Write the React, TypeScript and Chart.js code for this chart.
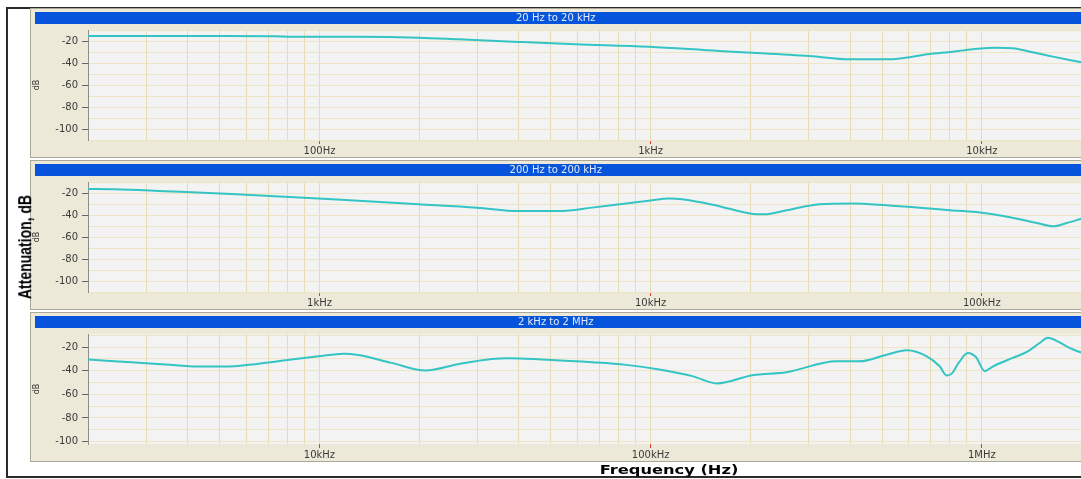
import { useEffect, useRef } from 'react';
import { Chart, registerables } from 'chart.js';

Chart.register(...registerables);
Chart.defaults.font.family = '"DejaVu Sans", Verdana, sans-serif';

// Attenuation sweeps, one per decade window (frequency in Hz, level in dB)
const lowBandHz = [20, 30, 50, 73, 82, 100, 131, 200, 263, 400, 595, 990, 1610, 2030, 3020, 3990, 5270, 5930, 6820, 8170, 9390, 11100, 12400, 14000, 16400, 20000];
const lowBandDb = [-15.5, -15.5, -15.5, -15.6, -16.2, -16.2, -16.2, -17.0, -18.5, -20.9, -23.0, -25.2, -29.1, -30.6, -33.6, -36.6, -36.6, -35.1, -32.1, -29.7, -27.5, -26.1, -26.6, -29.7, -34.2, -39.4];

const midBandHz = [200, 241, 342, 542, 993, 1310, 1990, 2990, 4000, 5290, 6650, 8430, 9890, 11370, 12450, 14310, 16110, 20130, 22030, 25700, 32350, 40750, 51600, 64900, 81700, 100000, 121600, 146600, 164000, 180700, 200000];
const midBandDb = [-16.3, -16.6, -18.4, -20.9, -24.9, -27.1, -30.2, -33.3, -36.4, -36.4, -33.3, -29.5, -27.1, -24.9, -25.6, -28.6, -32.0, -38.8, -39.4, -35.7, -30.2, -29.5, -31.1, -33.3, -35.8, -37.9, -42.0, -47.2, -50.3, -47.2, -43.4];

const highBandHz = [2000, 2700, 3420, 4310, 5200, 6230, 7890, 9930, 11830, 13120, 16520, 20930, 26370, 33130, 37300, 46950, 66560, 84300, 106200, 133700, 158600, 202800, 257000, 364000, 427400, 516000, 593000, 682000, 746000, 783000, 811000, 851000, 907000, 960000, 1021000, 1079000, 1241000, 1368000, 1499000, 1585000, 1700000, 1846000, 2000000];
const highBandDb = [-30.6, -32.9, -34.8, -36.5, -36.5, -34.8, -31.2, -27.9, -25.6, -26.8, -33.4, -39.9, -34.3, -30.1, -29.5, -30.6, -32.9, -35.1, -39.0, -44.6, -50.8, -43.8, -41.3, -32.1, -32.1, -26.5, -22.8, -27.9, -36.3, -44.0, -42.5, -33.5, -25.0, -28.5, -40.4, -36.5, -29.2, -24.2, -16.4, -12.2, -15.5, -21.0, -24.8];

const bandTitles = ['20 Hz to 20 kHz', '200 Hz to 200 kHz', '2 kHz to 2 MHz'];
const bandRangesHz = [[20, 20000], [200, 200000], [2000, 2000000]];
const bandRangesDb = [[-110, -10], [-110, -10], [-102, -9]];
const dbGridStep = 10;
const dbLabelStep = 20;
const yUnit = 'dB';
const yAxisCaption = 'Attenuation, dB';
const xAxisCaption = 'Frequency (Hz)';

const PANEL_W = 1056;
const PANEL_H = 150;
const panelTops = [8, 160, 312];

const isDecade = (v: number) => Math.abs(Math.log10(v) - Math.round(Math.log10(v))) < 1e-9;

const formatHz = (v: number) => {
  if (v >= 1e6) return `${v / 1e6}MHz`;
  if (v >= 1e3) return `${v / 1e3}kHz`;
  return `${v}Hz`;
};

const panelChrome = {
  id: 'panelChrome',
  beforeDraw(chart: any) {
    const { ctx, width, height, chartArea } = chart;
    ctx.save();
    ctx.fillStyle = '#ECE9D8';
    ctx.fillRect(0, 0, width, height);
    ctx.strokeStyle = '#ABA89A';
    ctx.lineWidth = 1;
    ctx.strokeRect(0.5, 0.5, width - 1, height - 1);
    ctx.fillStyle = '#0654DC';
    ctx.fillRect(5, 4, width - 5, 12);
    ctx.fillStyle = '#F3F3F3';
    ctx.fillRect(chartArea.left, chartArea.top, chartArea.right - chartArea.left, chartArea.bottom - chartArea.top);
    ctx.restore();
  },
};

function Panel({ index }: { index: number }) {
  const ref = useRef<HTMLCanvasElement>(null);

  useEffect(() => {
    const freqs = [lowBandHz, midBandHz, highBandHz][index];
    const levels = [lowBandDb, midBandDb, highBandDb][index];
    const [xMin, xMax] = bandRangesHz[index];
    const [yMin, yMax] = bandRangesDb[index];

    const chart = new Chart(ref.current as HTMLCanvasElement, {
      type: 'line',
      data: {
        datasets: [
          {
            data: freqs.map((f, i) => ({ x: f, y: levels[i] })),
            borderColor: '#34C4C4',
            borderWidth: 2,
            pointRadius: 0,
            fill: false,
            cubicInterpolationMode: 'monotone',
          },
        ],
      },
      options: {
        responsive: false,
        animation: false,
        layout: { padding: { right: 4.5 } },
        plugins: {
          legend: { display: false },
          tooltip: { enabled: false },
          title: {
            display: true,
            text: bandTitles[index],
            color: '#E2EAF8',
            font: { size: 10, weight: 'normal', lineHeight: 1.2 },
            padding: { top: 4, bottom: 6 },
          },
        },
        scales: {
          x: {
            type: 'logarithmic',
            min: xMin,
            max: xMax,
            afterBuildTicks: (scale: any) => {
              const ticks: { value: number }[] = [];
              for (let d = Math.floor(Math.log10(xMin)); d <= Math.ceil(Math.log10(xMax)); d++) {
                for (let m = 1; m <= 9; m++) {
                  const v = Math.round(m * Math.pow(10, d));
                  if (v >= xMin && v <= xMax) ticks.push({ value: v });
                }
              }
              scale.ticks = ticks;
            },
            afterFit: (scale: any) => {
              scale.height = 18;
            },
            border: { display: false },
            grid: {
              color: '#E6DCB4',
              lineWidth: 1,
              drawTicks: true,
              tickLength: 4,
              tickColor: (ctx: any) => (ctx.tick && isDecade(ctx.tick.value) ? '#D04040' : 'rgba(0,0,0,0)'),
            },
            ticks: {
              autoSkip: false,
              maxRotation: 0,
              minRotation: 0,
              padding: 1,
              color: '#3A3A3A',
              font: { size: 10 },
              callback: (v: any) => (isDecade(Number(v)) ? formatHz(Number(v)) : ''),
            },
          },
          y: {
            type: 'linear',
            min: yMin,
            max: yMax,
            afterBuildTicks: (scale: any) => {
              const ticks: { value: number }[] = [];
              const start = Math.ceil(yMin / dbGridStep) * dbGridStep;
              for (let v = start; v <= yMax; v += dbGridStep) ticks.push({ value: v });
              scale.ticks = ticks;
            },
            afterFit: (scale: any) => {
              scale.width = 58;
            },
            border: { display: true, color: '#8E8E8E', width: 1 },
            grid: {
              color: '#EDE5C6',
              lineWidth: 1,
              drawTicks: true,
              tickLength: 6,
              tickColor: (ctx: any) =>
                ctx.tick && ctx.tick.value % dbLabelStep === 0 ? '#666666' : 'rgba(0,0,0,0)',
            },
            ticks: {
              autoSkip: false,
              padding: 4,
              color: '#3A3A3A',
              font: { size: 10 },
              callback: (v: any) => (Number(v) % dbLabelStep === 0 ? String(v) : ''),
            },
            title: {
              display: true,
              text: yUnit,
              color: '#333333',
              font: { size: 8 },
              padding: { top: 2, bottom: 0 },
            },
          },
        },
      },
      plugins: [panelChrome],
    } as any);

    return () => chart.destroy();
  }, [index]);

  return (
    <canvas
      ref={ref}
      width={PANEL_W}
      height={PANEL_H}
      style={{
        position: 'absolute',
        left: 30,
        top: panelTops[index],
        width: PANEL_W,
        height: PANEL_H,
        display: 'block',
      }}
    />
  );
}

export default function App() {
  return (
    <div
      style={{
        position: 'fixed',
        left: 0,
        top: 0,
        width: 1081,
        height: 479,
        background: '#FFFFFF',
        overflow: 'hidden',
      }}
    >
      <div
        style={{
          position: 'absolute',
          left: 6,
          top: 7,
          width: 1200,
          height: 467,
          border: '2px solid #2A2A2A',
        }}
      />
      {[0, 1, 2].map((i) => (
        <Panel key={i} index={i} />
      ))}
      <div
        style={{
          position: 'absolute',
          left: 24,
          top: 247,
          transform: 'translate(-50%, -50%) rotate(-90deg) scaleY(1.35)',
          whiteSpace: 'nowrap',
          fontFamily: '"Liberation Sans", Arial, sans-serif',
          fontWeight: 'bold',
          fontSize: 14,
          lineHeight: '16px',
          color: '#000000',
        }}
      >
        {yAxisCaption}
      </div>
      <div
        style={{
          position: 'absolute',
          left: 669,
          top: 469,
          transform: 'translate(-50%, -50%) scaleX(1.25)',
          whiteSpace: 'nowrap',
          fontFamily: '"DejaVu Sans", Verdana, sans-serif',
          fontWeight: 'bold',
          fontSize: 13,
          lineHeight: '15px',
          color: '#000000',
        }}
      >
        {xAxisCaption}
      </div>
    </div>
  );
}
